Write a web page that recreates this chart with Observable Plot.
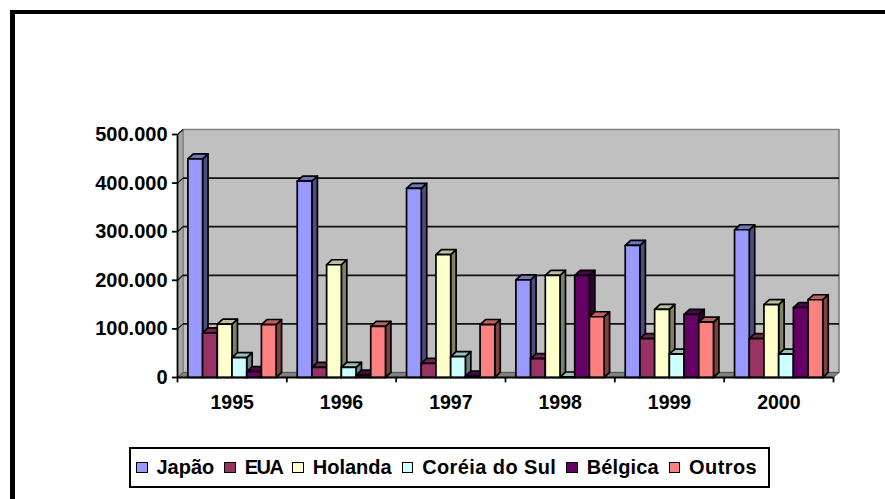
<!DOCTYPE html>
<html><head><meta charset="utf-8">
<script src="https://cdn.jsdelivr.net/npm/d3@7"></script>
<script src="https://cdn.jsdelivr.net/npm/@observablehq/plot@0.6"></script>
<style>
html,body{margin:0;padding:0;background:#fff}
body{position:relative;width:885px;height:499px;overflow:hidden;font-family:"Liberation Sans",Arial,sans-serif}
#frame{position:absolute;left:10px;top:10px;right:0;bottom:0;border-left:5px solid #000;border-top:4px solid #000;pointer-events:none}
#legend{position:absolute;left:129px;top:447px;width:637px;height:37px;border:2px solid #000;display:flex;align-items:center;box-sizing:content-box;font-weight:bold;font-size:20px;color:#000;background:#fff;padding-left:0}
#legend span.k{display:inline-block;box-sizing:border-box;flex:none;width:11.5px;height:11.5px;border:1.7px solid #000;margin:0 9px 0 10px}
#legend span.k:first-child{margin-left:5px}
#legend span.t{white-space:nowrap}
svg{position:absolute;left:0;top:0}
</style></head><body>
<div id="chart"></div><div id="frame"></div><div id="legend"></div>
<script>
const years = ["1995","1996","1997","1998","1999","2000"];
const japao   = [450000,404000,389000,201000,272000,304000];
const eua     = [ 92000, 21000, 29000, 39000, 80000, 80000];
const holanda = [110000,232000,253000,210000,140000,150000];
const coreia  = [ 41000, 21000, 43000,  1000, 48000, 48000];
const belgica = [ 12000,  5000,  3000,210000,130000,144000];
const outros  = [109000,105000,109000,125000,114000,160000];
const seriesNames = ["Japão","EUA","Holanda","Coréia do Sul","Bélgica","Outros"];
const seriesValues = [japao,eua,holanda,coreia,belgica,outros];
const legendTracking = ["0","-1.6px","0","0.4px","0.1px","0.4px"];
const fronts = ["#9999FF","#993366","#FFFFCC","#CCFFFF","#660066","#FF8080"];
const sides  = ["#4D4D80","#4D1A33","#808066","#668080","#330033","#804040"];
const tops   = ["#7373BF","#73264D","#BFBF99","#99BFBF","#4D004D","#BF6060"];
const tickVals = [0,100000,200000,300000,400000,500000];
const depthX = 0.05, depthY = 10300, barW = 0.1345, barStart = 0.095;

const poly = pts => pts.concat([pts[0]]).map(([x,y]) => ({x,y}));
const shape = (pts, fill, stroke, sw) => Plot.line(poly(pts), {x:"x", y:"y", fill, stroke, strokeWidth:sw, curve:"linear", strokeLinejoin:"round"});

const marks = [
  shape([[depthX,depthY],[6+depthX,depthY],[6+depthX,500000+depthY],[depthX,500000+depthY]], "#C0C0C0", "#808080", 1.7),
  shape([[0,0],[depthX,depthY],[depthX,500000+depthY],[0,500000]], "#A6A6A6", "#808080", 1),
  shape([[0,0],[6,0],[6+depthX,depthY],[depthX,depthY]], "#808080", "#555", 1),
  Plot.link(tickVals.slice(1), {x1:()=>0, y1:d=>d, x2:()=>depthX, y2:d=>d+depthY, stroke:"#111", strokeWidth:1.2}),
  Plot.link(tickVals.slice(1,5), {x1:()=>depthX, y1:d=>d+depthY, x2:()=>6+depthX, y2:d=>d+depthY, stroke:"#111", strokeWidth:1.7})
];
years.forEach((yr,i) => {
  seriesValues.forEach((vals,s) => {
    const v = vals[i], l = i+barStart+s*barW, r = l+barW;
    marks.push(
      shape([[r,0],[r+depthX,depthY],[r+depthX,v+depthY],[r,v]], sides[s], "#000", 1.7),
      shape([[l,v],[r,v],[r+depthX,v+depthY],[l+depthX,v+depthY]], tops[s], "#000", 1.7),
      shape([[l,0],[r,0],[r,v],[l,v]], fronts[s], "#000", 1.7)
    );
  });
});
marks.push(
  Plot.ruleX([0], {y1:0, y2:500000, stroke:"#000", strokeWidth:1.8}),
  Plot.ruleY([0], {x1:0, x2:6, stroke:"#000", strokeWidth:2}),
  Plot.axisY({ticks:tickVals, tickSize:5, tickPadding:5, label:null, stroke:"#000", strokeWidth:1.8,
    tickFormat:d=>d3.format(",")(d).replace(/,/g,"."), fontSize:20, fontWeight:"bold", fill:"#000"}),
  Plot.ruleX([0,1,2,3,4,5,6], {y1:0, y2:-11000, stroke:"#000", strokeWidth:1.8}),
  Plot.axisX({ticks:[0.5,1.5,2.5,3.5,4.5,5.5], tickSize:0, tickPadding:18, label:null,
    tickFormat:d=>years[Math.floor(d)], fontSize:19.5, fontWeight:"bold", fill:"#000"})
);
const svg = Plot.plot({
  width:885, height:499, marginTop:134, marginBottom:122, marginLeft:177, marginRight:52,
  style:{fontFamily:'"Liberation Sans",Arial,sans-serif', background:"transparent", overflow:"visible"},
  x:{type:"linear", domain:[0,6], label:null},
  y:{type:"linear", domain:[0,500000], label:null},
  marks
});
document.getElementById("chart").appendChild(svg);
const lg = document.getElementById("legend");
seriesNames.forEach((n,s)=>{
  const k=document.createElement("span");k.className="k";k.style.background=fronts[s];
  const t=document.createElement("span");t.className="t";t.textContent=n;t.style.letterSpacing=legendTracking[s];
  lg.append(k,t);
});
</script></body></html>
